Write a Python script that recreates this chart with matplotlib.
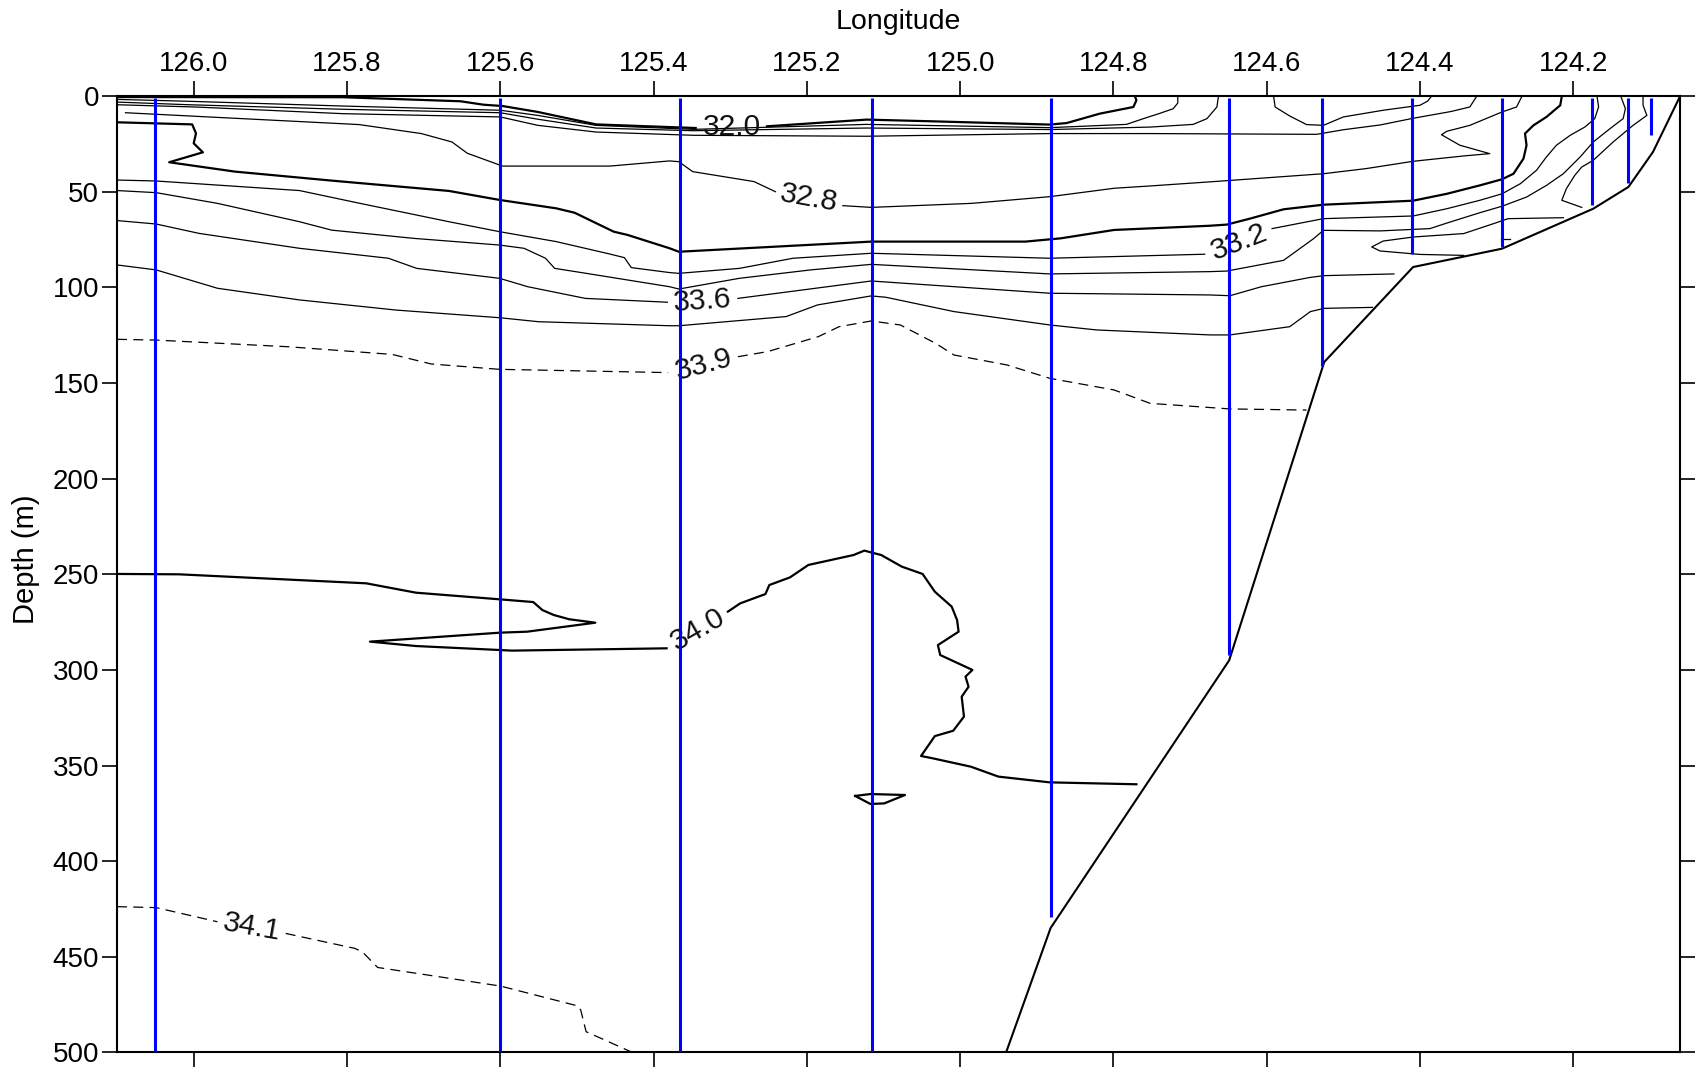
import numpy as np
import matplotlib.pyplot as plt

plt.rcParams['font.family'] = ['Liberation Sans', 'DejaVu Sans']

nan = np.nan

# CTD stations (longitude) and the deepest sample at each one (m)
station_lon = [126.051, 125.600, 125.366, 125.115, 124.882, 124.649,
               124.528, 124.411, 124.293, 124.175, 124.128, 124.099]
station_depth = [520, 520, 520, 520, 429, 292, 141, 82.5, 78.6, 56.8, 45.5, 20.2]

# sea floor along the section
bottom_lon = [124.0607, 124.096, 124.128, 124.174, 124.293, 124.409,
              124.525, 124.649, 124.882, 124.940]
bottom_depth = [0, 29.1, 47.4, 58.8, 79.7, 89.3, 139.0, 295.0, 435.0, 500]

lon_ticks = [126.0, 125.8, 125.6, 125.4, 125.2, 125.0, 124.8, 124.6, 124.4, 124.2]
depth_ticks = [0, 50, 100, 150, 200, 250, 300, 350, 400, 450, 500]

# salinity isolines as (lon, depth) points; nan leaves room for a label
s320 = [(126.102, 0.4), (125.805, 0.5), (125.652, 2.6), (125.622, 4.4), (125.597, 5.1),
        (125.551, 8.2), (125.475, 14.7), (125.345, 16.6), (nan, nan), (125.252, 15.7),
        (125.122, 12.2), (125.035, 13.1), (124.883, 14.8), (124.861, 14.0), (124.818, 9.1),
        (124.774, 5.6), (124.770, 2.1), (124.772, 0.0)]
s322 = [(126.102, 1.6), (126.008, 2.6), (125.805, 5.1), (125.600, 7.3), (125.551, 10.0),
        (125.475, 15.2), (125.348, 17.3), (125.122, 14.7), (124.883, 16.4), (124.783, 14.7),
        (124.761, 11.7), (124.740, 9.0), (124.722, 6.5), (124.716, 3.5), (124.716, 0.0)]
s324 = [(126.102, 3.0), (126.008, 4.4), (125.805, 6.8), (125.600, 8.6), (125.551, 12.0),
        (125.475, 16.6), (125.348, 18.0), (125.122, 16.6), (124.883, 17.4), (124.752, 16.1),
        (124.696, 14.7), (124.678, 11.7), (124.665, 5.6), (124.663, 0.0)]
s324_pocket = [(124.591, 0.0), (124.589, 5.6), (124.570, 10.3), (124.548, 14.8), (124.526, 15.2),
               (124.500, 10.8), (124.448, 7.3), (124.400, 4.7), (124.390, 2.5), (124.385, 0.0)]
s326 = [(126.102, 4.4), (125.998, 5.6), (125.805, 9.1), (125.600, 10.8), (125.551, 15.2),
        (125.475, 18.7), (125.348, 20.4), (125.122, 20.9), (124.883, 19.5), (124.752, 19.5),
        (124.535, 19.9), (124.500, 17.5), (124.452, 15.0), (124.409, 11.5), (124.360, 8.0),
        (124.335, 5.6), (124.326, 0.0)]
s328 = [(126.089, 8.6), (125.784, 14.8), (125.703, 19.5), (125.663, 23.9), (125.643, 29.8),
        (125.597, 36.5), (125.457, 36.5), (125.379, 33.8), (125.367, 34.2), (125.349, 39.4),
        (125.269, 44.6), (125.241, 49.9), (nan, nan), (125.153, 57.2), (125.116, 58.1),
        (124.985, 56.0), (124.883, 52.5), (124.799, 48.1), (124.752, 46.9), (124.665, 44.5),
        (124.526, 40.5), (124.470, 37.8), (124.409, 34.0), (124.343, 31.2), (124.309, 30.0),
        (124.348, 25.6), (124.372, 20.1), (124.365, 18.3), (124.335, 15.2), (124.293, 8.2),
        (124.274, 5.6), (124.267, 0.0)]
s330 = [(126.100, 13.6), (126.002, 14.7), (125.997, 19.4), (126.000, 24.6), (125.988, 29.3),
        (126.032, 34.5), (125.946, 39.4), (125.820, 44.1), (125.667, 49.5), (125.601, 54.2),
        (125.527, 58.6), (125.503, 60.9), (125.452, 70.8), (125.434, 72.5), (125.379, 79.5),
        (125.367, 81.3), (125.116, 76.0), (124.915, 76.0), (124.869, 74.3), (124.799, 69.9),
        (124.674, 67.7), (124.652, 67.1), (124.622, 64.0), (124.578, 59.1), (124.526, 56.7),
        (124.409, 54.6), (124.365, 51.0), (124.322, 46.6), (124.293, 43.4), (124.278, 40.5),
        (124.265, 32.6), (124.261, 25.6), (124.263, 19.5), (124.252, 15.2), (124.235, 10.8),
        (124.217, 4.7), (124.215, 0.0)]
s332 = [(126.100, 43.8), (126.049, 44.3), (125.862, 49.3), (125.783, 56.0), (125.667, 65.6),
        (125.601, 70.8), (125.527, 76.0), (125.457, 82.5), (125.438, 84.4), (125.429, 89.6),
        (125.379, 92.2), (125.367, 92.6), (125.288, 90.0), (125.218, 84.7), (125.116, 82.1),
        (124.883, 84.7), (124.681, 82.6), (nan, nan), (124.593, 69.2), (124.526, 64.0),
        (124.409, 62.6), (124.365, 58.8), (124.322, 54.4), (124.293, 51.0), (124.269, 45.7),
        (124.248, 38.7), (124.235, 31.7), (124.222, 25.6), (124.204, 20.4), (124.185, 16.1),
        (124.172, 11.7), (124.167, 5.6), (124.169, 0.0)]
s334 = [(126.100, 49.3), (126.049, 50.4), (125.969, 56.0), (125.862, 65.6), (125.820, 70.0),
        (125.713, 74.3), (125.601, 77.8), (125.569, 79.5), (125.541, 84.7), (125.529, 90.0),
        (125.494, 92.2), (125.379, 99.6), (125.367, 100.8), (125.288, 95.2), (125.195, 90.8),
        (125.116, 87.9), (124.883, 92.9), (124.674, 91.7), (124.652, 91.4), (124.578, 85.8),
        (124.539, 74.5), (124.526, 70.1), (124.452, 70.4), (124.387, 69.2), (124.365, 66.3),
        (124.322, 60.9), (124.293, 57.5), (124.261, 52.7), (124.235, 46.6), (124.213, 40.5),
        (124.191, 31.7), (124.174, 23.9), (124.152, 16.9), (124.135, 11.7), (124.132, 6.5),
        (124.138, 0.0)]
s336 = [(126.100, 65.0), (126.049, 66.8), (125.993, 71.7), (125.862, 79.5), (125.746, 84.7),
        (125.709, 90.0), (125.601, 95.2), (125.564, 99.6), (125.489, 105.7), (125.382, 107.7),
        (nan, nan), (125.290, 105.7), (125.116, 96.6), (124.883, 103.0), (124.674, 103.9),
        (124.648, 104.3), (124.607, 99.6), (124.543, 94.7), (124.525, 93.8), (124.434, 92.9)]
s336_tongue = [(124.213, 63.5), (124.285, 64.0), (124.304, 66.6), (124.343, 71.8), (124.409, 73.6),
               (124.448, 75.7), (124.463, 78.8), (124.452, 80.9), (124.400, 82.7), (124.343, 83.2)]
s336_shelf = [(124.189, 58.1), (124.215, 54.4), (124.209, 48.3), (124.198, 41.3), (124.189, 37.0),
              (124.174, 33.5), (124.148, 23.9), (124.122, 15.2), (124.104, 10.0), (124.109, 4.7),
              (124.109, 0.0)]
s336_dash = [(124.294, 74.5), (124.283, 74.5)]
s338 = [(126.100, 88.2), (126.049, 90.8), (125.969, 100.4), (125.862, 106.5), (125.736, 111.8),
        (125.601, 115.8), (125.550, 117.9), (125.379, 120.0), (125.367, 120.0), (125.227, 115.2),
        (125.186, 109.1), (125.116, 104.4), (125.097, 105.1), (125.008, 112.6), (124.883, 119.6),
        (124.822, 122.2), (124.674, 124.8), (124.648, 124.8), (124.570, 120.5), (124.543, 112.6),
        (124.525, 110.9), (124.462, 110.4)]
s339 = [(126.100, 127.1), (126.049, 127.5), (125.876, 131.0), (125.741, 135.0), (125.690, 140.0),
        (125.601, 142.8), (125.381, 144.5), (nan, nan), (125.290, 136.2), (125.251, 133.5),
        (125.185, 125.7), (125.158, 120.5), (125.116, 117.5), (125.078, 119.6), (125.032, 129.2),
        (125.008, 135.3), (124.939, 140.5), (124.883, 147.5), (124.799, 153.6), (124.752, 160.6),
        (124.648, 163.5), (124.548, 164.1)]
s340 = [(126.100, 249.8), (126.019, 250.0), (125.775, 254.7), (125.710, 259.6), (125.600, 263.1),
        (125.557, 264.5), (125.545, 268.7), (125.530, 271.3), (125.510, 273.5), (125.476, 275.3),
        (125.565, 280.0), (125.600, 280.5), (125.770, 285.2), (125.710, 287.5), (125.600, 289.6),
        (125.585, 289.9), (125.383, 288.7), (nan, nan), (125.303, 269.5), (125.287, 265.2),
        (125.254, 260.3), (125.249, 255.6), (125.222, 251.6), (125.198, 245.1), (125.139, 239.9),
        (125.125, 237.6), (125.103, 239.9), (125.076, 246.0), (125.049, 249.8), (125.033, 259.1),
        (125.011, 266.9), (125.004, 273.9), (125.002, 280.0), (125.029, 287.0), (125.026, 292.2),
        (124.984, 300.0), (124.993, 303.5), (124.989, 308.8), (124.998, 314.0), (124.995, 324.4),
        (125.009, 331.8), (125.033, 334.6), (125.051, 345.0), (125.036, 346.2), (124.986, 350.6),
        (124.950, 355.8), (124.883, 358.8), (124.770, 359.8)]
s340_eddy = [(125.137, 365.9), (125.117, 364.9), (125.072, 365.4), (125.099, 369.8),
             (125.117, 370.1), (125.137, 365.9)]
s341 = [(126.100, 423.8), (126.049, 424.3), (125.969, 431.7), (nan, nan), (125.880, 437.8),
        (125.790, 445.6), (125.780, 447.4), (125.760, 455.6), (125.600, 465.3), (125.498, 475.8),
        (125.495, 477.9), (125.488, 489.2), (125.425, 500.5)]

isolines = [(32.0, s320), (32.2, s322), (32.4, s324), (32.4, s324_pocket), (32.6, s326),
            (32.8, s328), (33.0, s330), (33.2, s332), (33.4, s334), (33.6, s336),
            (33.6, s336_tongue), (33.6, s336_shelf), (33.6, s336_dash), (33.8, s338),
            (33.9, s339), (34.0, s340), (34.0, s340_eddy), (34.1, s341)]

# label level, position (lon, depth) and text angle
labels = [(32.0, 125.298, 16.3, 0), (32.8, 125.197, 53.5, -10), (33.2, 124.636, 76.0, 21),
          (33.6, 125.336, 106.9, 4), (33.9, 125.335, 140.5, 15), (34.0, 125.342, 279.0, 30),
          (34.1, 125.924, 434.3, -10)]

fig = plt.figure(figsize=(16.96, 10.71), dpi=100)
ax = fig.add_axes([0.0687, 0.0174, 0.9219, 0.8927])

for level, pts in isolines:
    pts = np.array(pts, dtype=float)
    if level in (33.9, 34.1):
        ax.plot(pts[:, 0], pts[:, 1], color='k', lw=0.9, ls=(0, (8, 5)))
    elif level in (32.0, 33.0, 34.0):
        ax.plot(pts[:, 0], pts[:, 1], color='k', lw=1.6)
    else:
        ax.plot(pts[:, 0], pts[:, 1], color='k', lw=0.9)

for level, lon, dep, ang in labels:
    ax.text(lon, dep, f'{level:.1f}', fontsize=21.5, rotation=ang, color='#111111',
            ha='center', va='center', rotation_mode='anchor')

# bottom profile
ax.plot(bottom_lon, bottom_depth, color='k', lw=1.5)

# station casts
ax.vlines(station_lon, 1, station_depth, colors='#0000ff', lw=2.2, zorder=4)

ax.set_xlim(126.1007, 124.0607)
ax.set_ylim(500, 0)
ax.set_xticks(lon_ticks)
ax.set_xticklabels([f'{v:.1f}' for v in lon_ticks])
ax.set_yticks(depth_ticks)
ax.tick_params(direction='out', length=11, width=1.2, labelsize=20, pad=3,
               top=True, bottom=True, left=True, right=True,
               labeltop=True, labelbottom=False)
ax.tick_params(axis='y', pad=1.5)
for s in ax.spines.values():
    s.set_linewidth(1.5)

ax.xaxis.set_label_position('top')
ax.set_xlabel('Longitude', fontsize=20.5, labelpad=16)
ax.set_ylabel('Depth (m)', fontsize=21, labelpad=9)
ax.yaxis.set_label_coords(-0.049, 0.516)

fig.savefig('out.png', dpi=100)
